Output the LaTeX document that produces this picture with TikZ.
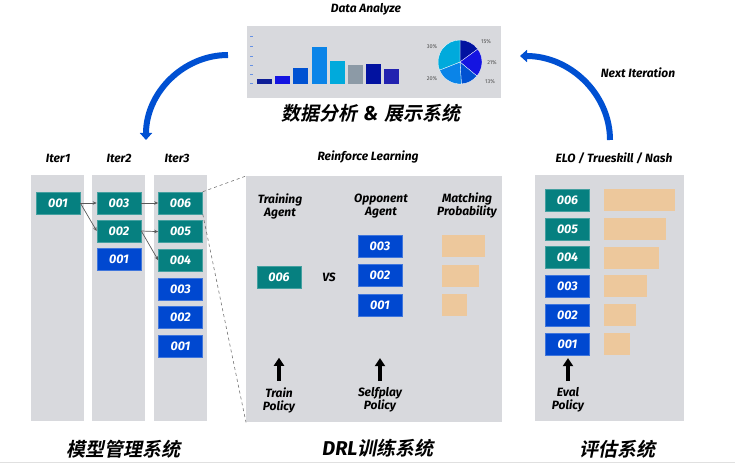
\documentclass[tikz,border=0pt]{standalone}
\usepackage{fontspec}
\setmainfont{Fira Sans}
\newfontfamily\cjk{Noto Sans CJK SC Bold}[FakeSlant=0.2]
\usetikzlibrary{arrows.meta}
\definecolor{panelgray}{RGB}{216,217,221}
\definecolor{ckteal}{RGB}{6,128,128}
\definecolor{ckblue}{RGB}{0,72,208}
\definecolor{peach}{RGB}{237,200,156}
\definecolor{arcblue}{RGB}{0,80,210}
\definecolor{bara}{RGB}{14,30,150}
\definecolor{barb}{RGB}{20,20,225}
\definecolor{barc}{RGB}{0,82,210}
\definecolor{bard}{RGB}{10,132,232}
\definecolor{bare}{RGB}{0,170,220}
\definecolor{barf}{RGB}{140,154,166}
\definecolor{barg}{RGB}{2,18,160}
\definecolor{barh}{RGB}{34,34,176}
\newcommand{\lbl}{\bfseries\itshape\fontsize{12}{13}\selectfont}
\newcommand{\ttl}[1]{{\cjk\fontsize{19}{20}\selectfont #1}}
\newcommand{\bigit}{\bfseries\itshape\fontsize{20}{20}\selectfont}

\begin{document}
\begin{tikzpicture}[x=1pt,y=-1pt,
    ck/.style={fill=#1,draw=#1!75!white,line width=0.6pt,minimum width=44pt,minimum height=22pt,inner sep=0pt,text=white,font=\bfseries\itshape\fontsize{12.5}{12}\selectfont},
    prob/.style={fill=peach,minimum height=22pt,inner sep=0pt,anchor=west},
    panel/.style={fill=panelgray,inner sep=0pt,anchor=north west},
    link/.style={-{Stealth[length=4pt,width=3.5pt]},draw=black!65,line width=0.7pt},
    hint/.style={dashed,draw=black!55,line width=0.6pt},
    pushup/.style={-{Triangle[length=8pt,width=10pt]},line width=3.5pt},
    loopback/.style={-{Triangle[length=7pt,width=12pt]},draw=arcblue,line width=6pt},
    txt/.style={font=\lbl,align=center}]
    \useasboundingbox (0,0) rectangle (735,465);
    \draw[black!12] (0,462) -- (735,462);

    \node[panel,minimum width=254pt,minimum height=72pt] (dash) at (247,26) {};
    \node[txt] (dhead) at (366,9) {Data Analyze};
    \foreach \x/\h/\c in {257/79/bara,275/76/barb,293/68/barc,312/47/bard,330/61/bare,348/65/barf,366/64/barg,384/69/barh}
        \fill[\c] (\x,84) rectangle (\x+15,\h);
    \foreach \y in {37,47,57,66,75,84}
        \draw[ckblue!60,line width=1pt] (250,\y) -- (253,\y);
    \coordinate (pc) at (460,62);
    \foreach \a/\b/\c in {-90/-36/barg,-36/39.6/barb,39.6/86.4/barc,86.4/158.4/bard,158.4/270/bare}
        \filldraw[fill=\c,draw=white,line width=0.3pt] (pc) -- ++(\a:22) arc[start angle=\a,end angle=\b,radius=22] -- cycle;
    \foreach \x/\y/\p in {486/42/15\%,492/63/21\%,490/82/13\%,432/79/20\%,432/47/30\%}
        \node[font=\fontsize{5.5}{5}\selectfont,text=black!70] at (\x,\y) {\p};
    \node (t0) at (371,113) {\ttl{数据分析}\hspace{6pt}{\bigit\&}\hspace{6pt}\ttl{展示系统}};

    \coordinate (lsrc) at (228,55);
    \coordinate (ldst) at (146,140);
    \draw[loopback] (lsrc) .. controls (183,55) and (146,93) .. (ldst);
    \coordinate (rsrc) at (610,140);
    \coordinate (rdst) at (520,56);
    \draw[loopback] (rsrc) .. controls (610,94) and (570,56) .. (rdst);
    \node[txt] (nxt) at (638,73) {Next Iteration};

    \foreach \x/\n in {31/1,92/2,154/3}
        \node[panel,minimum width=53pt,minimum height=246pt] (col\n) at (\x,175) {};
    \node[txt] (it1) at (58,158) {Iter1};
    \node[txt] (it2) at (119,158) {Iter2};
    \node[txt] (it3) at (177,158) {Iter3};
    \node[ck=ckteal] (a001) at (58,203) {001};
    \node[ck=ckteal] (b003) at (119,203) {003};
    \node[ck=ckteal] (b002) at (119,231) {002};
    \node[ck=ckblue] (b001) at (119,259) {001};
    \foreach \id/\c [count=\i from 0] in {006/ckteal,005/ckteal,004/ckteal,003/ckblue,002/ckblue,001/ckblue}
        \node[ck=\c] (c\id) at (180.5,203+28.6*\i) {\id};
    \draw[link] (a001.east) -- (b003.west);
    \draw[link] (a001.east) -- (b002.west);
    \draw[link] (b003.east) -- (c006.west);
    \draw[link] (b002.east) -- (c005.west);
    \draw[link] (b002.east) -- (c004.west);
    \node (t1) at (123,449) {\ttl{模型管理系统}};

    \node[panel,minimum width=256pt,minimum height=246pt] (drl) at (246,176) {};
    \draw[hint] (c006.north east) -- (drl.north west);
    \draw[hint] (c006.south east) -- (drl.south west);
    \node[txt] (rl) at (368,157) {Reinforce Learning};
    \node[txt] (tra) at (280,206) {Training\\Agent};
    \node[txt] (opa) at (381,206) {Opponent\\Agent};
    \node[txt] (mat) at (467,205) {Matching\\Probability};
    \node[ck=ckteal] (t006) at (279,277) {006};
    \node[txt] (vs) at (329,277) {VS};
    \foreach \id/\w [count=\i from 0] in {003/43,002/37,001/25}{
        \node[ck=ckblue] (o\id) at (380,246+29.5*\i) {\id};
        \node[prob,minimum width=\w pt] (m\id) at (442,246+29.5*\i) {};
    }
    \node[txt] (tp) at (279,400) {Train\\Policy};
    \node[txt] (sp) at (380,400) {Selfplay\\Policy};
    \draw[pushup] ([yshift=3pt]tp.north) -- ++(0,-23);
    \draw[pushup] ([yshift=3pt]sp.north) -- ++(0,-23);
    \node (t2) at (378,448) {{\bigit DRL}\ttl{训练系统}};

    \node[panel,minimum width=149pt,minimum height=246pt] (evp) at (535,175) {};
    \node[txt] (elo) at (614,158) {ELO / Trueskill / Nash};
    \foreach \id/\c/\w [count=\i from 0] in {006/ckteal/71,005/ckteal/62,004/ckteal/55,003/ckblue/43,002/ckblue/32,001/ckblue/26}{
        \node[ck=\c] (e\id) at (567.5,200+28.8*\i) {\id};
        \node[prob,minimum width=\w pt] (s\id) at (604,200+28.8*\i) {};
    }
    \node[txt] (ep) at (568,400) {Eval\\Policy};
    \draw[pushup] ([yshift=3pt]ep.north) -- ++(0,-23);
    \node (t3) at (617,449) {\ttl{评估系统}};
\end{tikzpicture}
\end{document}
